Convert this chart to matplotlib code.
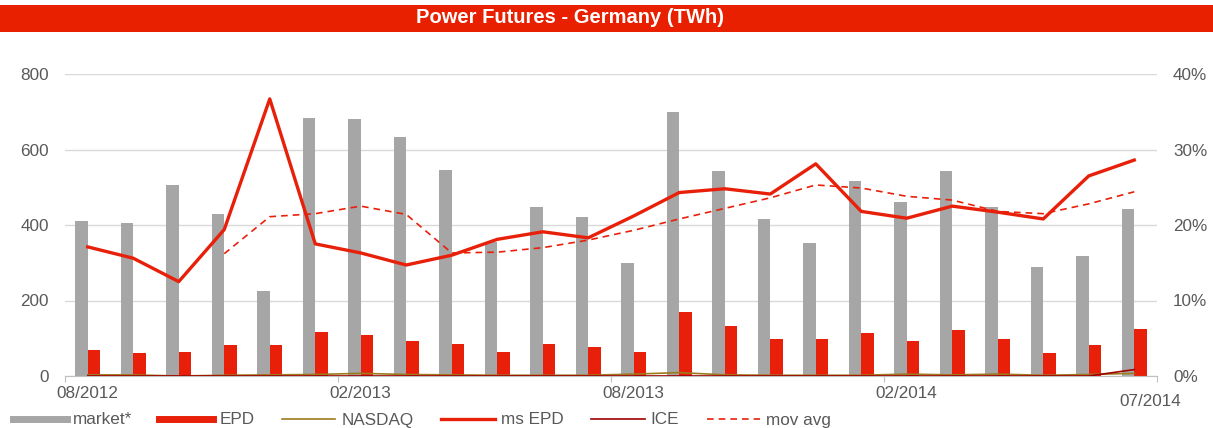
import matplotlib
matplotlib.use("Agg")
import matplotlib.pyplot as plt
from matplotlib.lines import Line2D
from matplotlib.patches import Rectangle
import numpy as np

plt.rcParams['font.family'] = ['Liberation Sans', 'DejaVu Sans']

# monthly data, 08/2012 .. 07/2014
months = ["08/2012", "09/2012", "10/2012", "11/2012", "12/2012", "01/2013",
          "02/2013", "03/2013", "04/2013", "05/2013", "06/2013", "07/2013",
          "08/2013", "09/2013", "10/2013", "11/2013", "12/2013", "01/2014",
          "02/2014", "03/2014", "04/2014", "05/2014", "06/2014", "07/2014"]
market = [410, 405, 505, 428, 225, 683, 680, 632, 546, 355, 448, 420,
          300, 700, 542, 415, 353, 517, 460, 542, 447, 288, 317, 443]
epd = [68, 60, 64, 81, 81, 117, 109, 92, 85, 64, 85, 77,
       64, 170, 133, 97, 97, 113, 93, 121, 97, 60, 81, 125]
nasdaq = [3, 3, 0, 2, 3, 4, 7, 4, 3, 2, 2, 2,
          5, 9, 3, 2, 2, 2, 5, 3, 5, 2, 4, 7]
ice = [0, 0, 0, 0, 0, 0, 0, 0, 0, 0, 0, 0,
       0, 0, 0, 0, 0, 0, 0, 0, 0, 0, 0, 17]
ms_epd = [17.1, 15.6, 12.5, 19.4, 36.7, 17.5, 16.3, 14.7, 16.0, 18.1, 19.1, 18.3,
          21.2, 24.3, 24.8, 24.1, 28.1, 21.8, 20.9, 22.5, 21.7, 20.8, 26.5, 28.6]
mov_avg = [np.nan, np.nan, np.nan, 16.2, 21.1, 21.5, 22.5, 21.4, 16.3, 16.4, 17.0, 18.0,
           19.3, 20.8, 22.2, 23.6, 25.3, 24.9, 23.8, 23.3, 21.8, 21.5, 22.8, 24.4]

label_idx = [0, 6, 12, 18]

RED = "#E8200A"
GRAY = "#A6A6A6"
TXT = "#595959"
FS = 12.3

fig = plt.figure(figsize=(12.13, 4.28), dpi=100)

# title banner
fig.patches.append(Rectangle((0, 1 - 32 / 428), 1, 27 / 428, transform=fig.transFigure,
                             facecolor="#E82000", edgecolor="none"))
fig.text(570 / 1213, 1 - 17.5 / 428, "Power Futures - Germany (TWh)", ha="center", va="center",
         color="white", fontsize=14.5, fontweight="bold")

ax = fig.add_axes([65 / 1213, 52 / 428, 1092 / 1213, 302 / 428])
ax2 = ax.twinx()

x = np.arange(len(months))
w = 0.27
ax.bar(x - w / 2, market, w, color=GRAY, zorder=2)
ax.bar(x + w / 2, epd, w, color=RED, zorder=2)
ax.plot(x, nasdaq, color="#9C7A1E", lw=1.2, zorder=3)
ax.plot(x, ice, color="#A00000", lw=1.2, zorder=3)

ax2.plot(x, ms_epd, color=RED, lw=2.4)
ax2.plot(x, mov_avg, color=RED, lw=1.2, ls=(0, (4, 3)))

ax.set_xlim(-0.5, len(months) - 0.5)
ax.set_ylim(0, 800)
ax2.set_ylim(0, 40)
ax.set_yticks([0, 200, 400, 600, 800])
ax2.set_yticks([0, 10, 20, 30, 40])
ax2.set_yticklabels([f"{v}%" for v in [0, 10, 20, 30, 40]])
ax.grid(axis="y", color="#D9D9D9", lw=1.0, zorder=0)
ax.set_axisbelow(True)

for a in (ax, ax2):
    for s in a.spines.values():
        s.set_visible(False)
ax.spines["bottom"].set_visible(True)
ax.spines["bottom"].set_color("#BFBFBF")

ax.tick_params(axis="y", length=0, pad=11.5, labelsize=FS, labelcolor=TXT)
ax2.tick_params(axis="y", length=0, pad=11.5, labelsize=FS, labelcolor=TXT)

# tick marks on month boundaries, labels on month centres
ax.set_xticks([-0.5, 5.5, 11.5, 17.5, 23.5])
ax.set_xticklabels([])
ax.tick_params(axis="x", which="major", length=4, color="#BFBFBF", direction="out")
ax.set_xticks(label_idx, minor=True)
ax.set_xticklabels([months[i] for i in label_idx], minor=True)
ax.tick_params(axis="x", which="minor", length=0, pad=7.2, labelsize=FS, labelcolor=TXT)
ax.text(23.35, -0.083, months[-1], transform=ax.get_xaxis_transform(), ha="center",
        va="center", fontsize=FS, color=TXT)

handles = [
    Line2D([], [], color=GRAY, lw=5),
    Line2D([], [], color=RED, lw=5),
    Line2D([], [], color="#9C7A1E", lw=1.2),
    Line2D([], [], color=RED, lw=2.4),
    Line2D([], [], color="#A00000", lw=1.2),
    Line2D([], [], color=RED, lw=1.2, ls=(0, (4, 3))),
]
names = ["market*", "EPD", "NASDAQ", "ms EPD", "ICE", "mov avg"]
leg = fig.legend(handles, names, loc="center left", bbox_to_anchor=(13 / 1213, 1 - 420 / 428),
                 ncol=6, frameon=False, fontsize=FS, handlelength=3.15, handletextpad=0.35,
                 columnspacing=1.6, borderpad=0, borderaxespad=0)
for t in leg.get_texts():
    t.set_color(TXT)

fig.savefig("out.png", dpi=100)
